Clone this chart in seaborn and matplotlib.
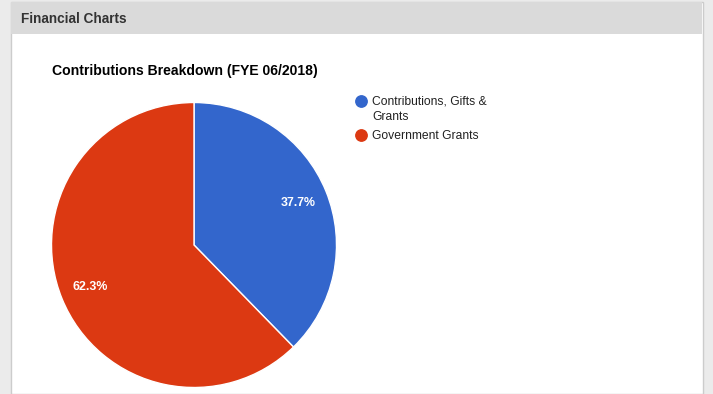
import matplotlib
matplotlib.use('Agg')
import matplotlib.pyplot as plt
from matplotlib.patches import Rectangle
from matplotlib.lines import Line2D
import seaborn as sns

# data
labels = ['Contributions, Gifts &\nGrants', 'Government Grants']
shares = [37.7, 62.3]
colors = ['#3366cc', '#dc3912']

sns.set_theme(style='white')
plt.rcParams['font.family'] = ['Liberation Sans', 'DejaVu Sans']

W, H = 713, 394
fig = plt.figure(figsize=(W / 100, H / 100), dpi=100)
fig.patch.set_facecolor('#ebebeb')

# panel + header
fig.patches.append(Rectangle((10.5 / W, 0), 692 / W, (H - 2) / H, transform=fig.transFigure,
                             facecolor='white', edgecolor='#cccccc', linewidth=1, zorder=-2))
fig.patches.append(Rectangle((11 / W, 1 - 34 / H), 691 / W, 32 / H, transform=fig.transFigure,
                             facecolor='#dadada', edgecolor='none', zorder=-1))
fig.text(21 / W, 1 - 19 / H, 'Financial Charts', fontsize=9.8, fontweight='bold',
         color='#333333', va='center', ha='left')
fig.text(52 / W, 1 - 70.5 / H, 'Contributions Breakdown (FYE 06/2018)', fontsize=10.1,
         fontweight='bold', color='#000000', va='center', ha='left')

r = 142.5
cx, cy = 194, 245
ax = fig.add_axes([(cx - r) / W, (H - cy - r) / H, 2 * r / W, 2 * r / H])
ax.set_zorder(2)
wedges, texts, autotexts = ax.pie(shares, colors=colors, startangle=90, counterclock=False,
                                  autopct='%.1f%%', pctdistance=0.79,
                                  wedgeprops=dict(edgecolor='white', linewidth=1))
for t in autotexts:
    t.set_color('white')
    t.set_fontsize(8.9)
    t.set_fontweight('bold')
ax.set_xlim(-1.0, 1.0)
ax.set_ylim(-1.0, 1.0)
ax.set_aspect('equal')
ax.axis('off')

# legend: marker aligned with first text line
leg_y = [101, 135]
for lab, c, y in zip(labels, colors, leg_y):
    fig.add_artist(Line2D([361 / W], [1 - y / H], marker='o', markersize=8.2,
                          markerfacecolor=c, markeredgecolor=c, linestyle='none',
                          transform=fig.transFigure))
    fig.text(372 / W, 1 - (y - 5) / H, lab, fontsize=8.7, color='#222222',
             va='top', ha='left', linespacing=1.3)

plt.savefig('out.png', dpi=100)
plt.close()
